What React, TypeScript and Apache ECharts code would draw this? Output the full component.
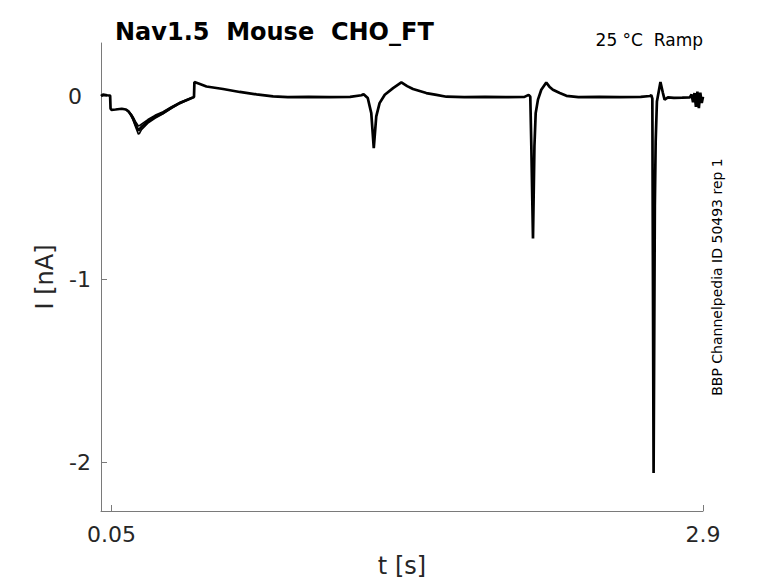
import React, { useEffect, useRef } from "react";
import * as echarts from "echarts";

// time [s] and current [nA] of the ramp recording
const tMain = [
  0.0, 0.01, 0.03, 0.044, 0.046, 0.05, 0.07, 0.1, 0.12, 0.132, 0.145, 0.155, 0.168, 0.18, 0.188, 0.2,
  0.226, 0.26, 0.299, 0.34, 0.379, 0.42, 0.448, 0.45, 0.47, 0.508, 0.588, 0.668, 0.749, 0.829, 0.9,
  1.0, 1.1, 1.2, 1.255, 1.265, 1.285, 1.302, 1.314, 1.326, 1.342, 1.367, 1.407, 1.447, 1.475, 1.503,
  1.567, 1.616, 1.664, 1.75, 1.85, 1.95, 2.04, 2.06, 2.068, 2.073, 2.081, 2.088, 2.094, 2.105, 2.121,
  2.145, 2.16, 2.177, 2.21, 2.242, 2.3, 2.4, 2.5, 2.6, 2.645, 2.651, 2.656, 2.662, 2.668, 2.672, 2.678,
  2.695, 2.707, 2.715, 2.731, 2.76, 2.8, 2.836, 2.845, 2.852, 2.859, 2.866, 2.873, 2.88, 2.887, 2.894,
  2.9,
];
const iMain = [
  0.003, 0.012, 0.008, 0.006, -0.065, -0.072, -0.07, -0.066, -0.07, -0.08, -0.1, -0.12, -0.155, -0.185,
  -0.175, -0.16, -0.135, -0.11, -0.089, -0.06, -0.035, -0.015, -0.002, 0.08, 0.072, 0.056, 0.042, 0.026,
  0.013, 0.002, -0.002, -0.001, -0.002, -0.001, 0.008, 0.014, -0.007, -0.09, -0.281, -0.108, -0.035,
  0.011, 0.047, 0.078, 0.058, 0.042, 0.02, 0.01, 0.0, -0.002, -0.001, -0.002, -0.001, 0.01, 0.0, -0.27,
  -0.776, -0.27, -0.09, -0.016, 0.038, 0.078, 0.055, 0.038, 0.02, 0.005, -0.002, -0.001, -0.002, -0.001,
  0.004, 0.008, -0.01, -2.06, -0.6, -0.245, -0.026, 0.08, 0.02, -0.016, -0.004, -0.006, -0.005, -0.004,
  0.012, -0.03, 0.02, -0.055, 0.028, -0.062, 0.022, -0.035, 0.0,
];

// other repetitions, where they visibly differ (first ramp dip)
const tRep = [0.12, 0.132, 0.145, 0.155, 0.168, 0.18, 0.186, 0.195, 0.226, 0.26, 0.299, 0.34, 0.379, 0.42, 0.448];
const iRep2 = [-0.07, -0.082, -0.105, -0.13, -0.17, -0.205, -0.2, -0.18, -0.145, -0.118, -0.094, -0.064, -0.038, -0.017, -0.003];
const iRep3 = [-0.07, -0.078, -0.095, -0.112, -0.14, -0.16, -0.158, -0.15, -0.125, -0.102, -0.082, -0.055, -0.031, -0.012, 0.0];

const xTicks = [0.05, 2.9];
const yTicks = [-2, -1, 0];

const titleText = "Nav1.5  Mouse  CHO_FT";
const condText = "25 °C  Ramp";
const sideText = "BBP Channelpedia ID 50493 rep 1";

const FONT = "DejaVu Sans";
const AXIS_COLOR = "#7a7a7a";
const TEXT_COLOR = "#262626";

function pairs(t: number[], v: number[]) {
  return t.map((x, i) => [x, v[i]]);
}

export default function App() {
  const ref = useRef<HTMLDivElement>(null);
  useEffect(() => {
    if (!ref.current) return;
    const chart = echarts.init(ref.current, null, { renderer: "svg" });
    const lineSeries = (data: number[][], width: number) => ({
      type: "line",
      data,
      showSymbol: false,
      symbol: "none",
      lineStyle: { color: "#000", width },
      itemStyle: { color: "#000" },
      z: 3,
    });
    chart.setOption({
      animation: false,
      backgroundColor: "#fff",
      grid: { left: 101, right: 75, top: 43, bottom: 72, containLabel: false },
      xAxis: {
        type: "value",
        min: 0,
        max: 2.9,
        name: "t [s]",
        nameLocation: "middle",
        nameGap: 43,
        nameTextStyle: { fontFamily: FONT, fontSize: 24, color: TEXT_COLOR },
        axisLine: { show: true, onZero: false, lineStyle: { color: AXIS_COLOR, width: 1 } },
        axisTick: { show: true, inside: true, length: 6, customValues: xTicks, lineStyle: { color: AXIS_COLOR } },
        axisLabel: {
          customValues: xTicks,
          formatter: (v: number) => String(v),
          fontFamily: FONT,
          fontSize: 22,
          color: TEXT_COLOR,
          margin: 12,
          showMinLabel: true,
          showMaxLabel: true,
        },
        splitLine: { show: false },
      },
      yAxis: {
        type: "value",
        min: -2.268,
        max: 0.294,
        name: "I [nA]",
        nameLocation: "middle",
        nameGap: 37,
        nameTextStyle: { fontFamily: FONT, fontSize: 24, color: TEXT_COLOR },
        axisLine: { show: true, onZero: false, lineStyle: { color: AXIS_COLOR, width: 1 } },
        axisTick: { show: true, inside: true, length: 6, customValues: yTicks, lineStyle: { color: AXIS_COLOR } },
        axisLabel: {
          customValues: yTicks,
          formatter: (v: number) => (v === 0 ? "{z|0}" : String(v)),
          fontFamily: FONT,
          fontSize: 22,
          color: TEXT_COLOR,
          margin: 10,
          rich: {
            z: { fontFamily: FONT, fontSize: 22, color: TEXT_COLOR, padding: [0, 9, 0, 0] },
          },
        },
        splitLine: { show: false },
      },
      series: [
        lineSeries(pairs(tRep, iRep2), 1.6),
        lineSeries(pairs(tRep, iRep3), 1.6),
        lineSeries(pairs(tMain, iMain), 2.7),
      ],
      graphic: [
        {
          type: "text",
          left: 115,
          top: 20,
          style: { text: titleText, font: `bold 24px "${FONT}"`, fill: "#000" },
        },
        {
          type: "text",
          right: 75,
          top: 31,
          style: { text: condText, font: `17px "${FONT}"`, fill: "#000" },
        },
        {
          type: "text",
          x: 717,
          y: 277,
          rotation: Math.PI / 2,
          style: {
            text: sideText,
            font: `14px "${FONT}"`,
            fill: "#000",
            align: "center",
            verticalAlign: "middle",
          },
        },
      ],
    });
    return () => chart.dispose();
  }, []);
  return (
    <div
      ref={ref}
      style={{ position: "fixed", left: 0, top: 0, width: 778, height: 583, background: "#fff" }}
    />
  );
}
